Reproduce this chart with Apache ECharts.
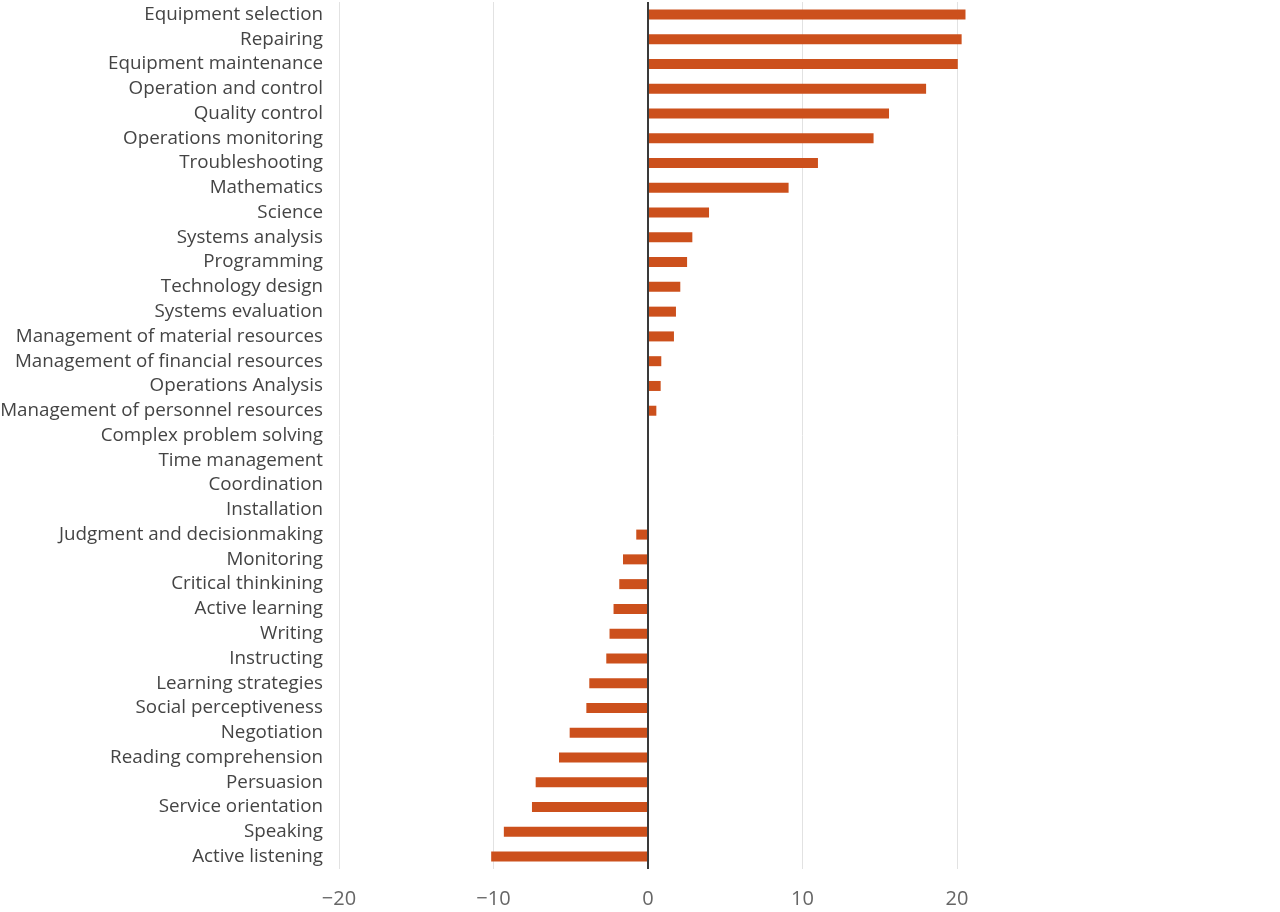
<!DOCTYPE html>
<html>
<head>
<meta charset="utf-8">
<script src="https://cdn.jsdelivr.net/npm/echarts@6/dist/echarts.min.js"></script>
<style>
  html, body { margin: 0; padding: 0; background: #fff; }
  #chart { width: 1280px; height: 912px; }
</style>
</head>
<body>
<div id="chart"></div>
<script>
// skills, top to bottom as shown
const skills = [
    "Equipment selection", "Repairing", "Equipment maintenance", "Operation and control",
    "Quality control", "Operations monitoring", "Troubleshooting", "Mathematics",
    "Science", "Systems analysis", "Programming", "Technology design",
    "Systems evaluation", "Management of material resources", "Management of financial resources",
    "Operations Analysis", "Management of personnel resources", "Complex problem solving",
    "Time management", "Coordination", "Installation", "Judgment and decisionmaking",
    "Monitoring", "Critical thinkining", "Active learning", "Writing", "Instructing",
    "Learning strategies", "Social perceptiveness", "Negotiation", "Reading comprehension",
    "Persuasion", "Service orientation", "Speaking", "Active listening",
];

const changes = [
    20.55, 20.3, 20.05, 18.0,
    15.6, 14.6, 11.0, 9.1,
    3.95, 2.87, 2.53, 2.09,
    1.81, 1.68, 0.86,
    0.82, 0.54, 0,
    0, 0, 0, -0.76,
    -1.62, -1.86, -2.23, -2.49, -2.7,
    -3.8, -3.99, -5.07, -5.76,
    -7.27, -7.51, -9.33, -10.15,
];

const xTicks = [-20, -10, 0, 10, 20];

const chart = echarts.init(document.getElementById("chart"));

const option = {
    backgroundColor: "#ffffff",
    animation: false,
    grid: {
        left: 339,
        right: 323,
        top: 2,
        bottom: 43,
        outerBoundsMode: "none",
    },
    xAxis: {
        type: "value",
        min: xTicks[0],
        max: xTicks[xTicks.length - 1],
        interval: 10,
        axisLine: { show: false },
        axisTick: { show: false },
        axisLabel: {
            margin: 20,
            fontFamily: "Open Sans",
            fontSize: 20,
            color: "#666666",
            formatter: (v) => String(v).replace("-", "\u2212"),
        },
        splitLine: { lineStyle: { color: "#e2e2e2", width: 1 } },
    },
    yAxis: {
        type: "category",
        inverse: true,
        data: skills,
        axisLine: { show: false },
        axisTick: { show: false },
        axisLabel: {
            margin: 16,
            fontFamily: "Open Sans",
            fontSize: 18.8,
            color: "#444444",
        },
    },
    series: [
        {
            type: "bar",
            data: changes,
            barWidth: 10,
            clip: false,
            itemStyle: { color: "#cc501c" },
            markLine: {
                silent: true,
                symbol: "none",
                label: { show: false },
                lineStyle: { color: "#3a3a3a", width: 2, type: "solid" },
                data: [{ xAxis: 0 }],
            },
        },
    ],
};

chart.setOption(option);
</script>
</body>
</html>
